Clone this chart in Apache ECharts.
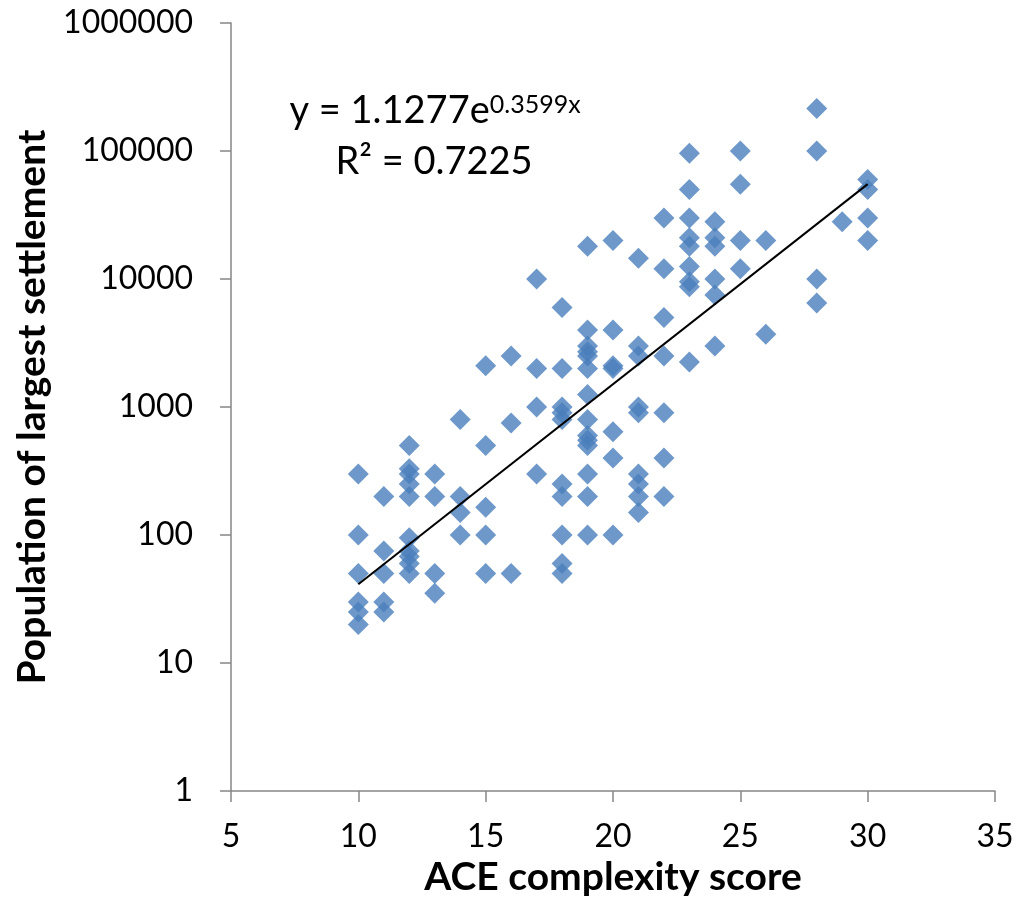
<!DOCTYPE html>
<html>
<head>
<meta charset="utf-8">
<title>ACE complexity score vs population of largest settlement</title>
<script src="https://cdn.jsdelivr.net/npm/echarts@6/dist/echarts.min.js"></script>
<style>
  html, body { margin: 0; padding: 0; background: #ffffff; }
  #chart { width: 1021px; height: 918px; }
</style>
</head>
<body>
<div id="chart"></div>
<script>
// ACE complexity score of each society and the population of its largest settlement
const scores = [10, 11, 12, 13, 14, 15, 16, 17, 18, 19, 20, 21, 22, 23, 24, 25, 26, 28, 29, 30];
const populations = [
  [300, 100, 50, 30, 25, 20],
  [200, 75, 50, 30, 25],
  [500, 330, 300, 250, 200, 95, 75, 68, 60, 50],
  [300, 200, 50, 35],
  [800, 200, 150, 100],
  [2100, 500, 165, 100, 50],
  [2500, 750, 50],
  [10000, 2000, 1000, 300],
  [6000, 2000, 1000, 900, 800, 250, 200, 100, 60, 50],
  [18000, 4000, 3000, 2700, 2500, 2000, 1250, 800, 600, 550, 500, 300, 200, 100],
  [20000, 4000, 2100, 2000, 640, 400, 100],
  [14500, 3000, 2500, 1000, 900, 300, 250, 200, 150],
  [30000, 12000, 5000, 2500, 900, 400, 200],
  [96000, 50000, 30000, 21000, 18000, 12500, 9500, 8700, 2250],
  [28000, 21000, 18000, 10000, 7500, 3000],
  [100000, 55000, 20000, 12000],
  [20000, 3700],
  [215000, 100000, 10000, 6500],
  [28000],
  [60000, 50000, 30000, 20000]
];

// Exponential fit y = a * e^(b x), drawn over the observed score range
const fitA = 1.1277;
const fitB = 0.3599;
const fitR2 = 0.7225;
const fitRange = [10, 30];

const xTicks = [5, 10, 15, 20, 25, 30, 35];
const yTicks = [1, 10, 100, 1000, 10000, 100000, 1000000];

const points = [];
scores.forEach((s, i) => populations[i].forEach(p => points.push([s, p])));
const fitLine = fitRange.map(x => [x, fitA * Math.exp(fitB * x)]);

const FONT = 'Lato, "Open Sans", sans-serif';
const axisGrey = '#868686';

const chart = echarts.init(document.getElementById('chart'));
chart.setOption({
  animation: false,
  backgroundColor: '#ffffff',
  grid: { left: 231, right: 26, top: 23, bottom: 127, containLabel: false },
  xAxis: {
    type: 'value',
    min: xTicks[0],
    max: xTicks[xTicks.length - 1],
    interval: 5,
    name: 'ACE complexity score',
    nameLocation: 'middle',
    nameGap: 54,
    nameTextStyle: { fontFamily: FONT, fontWeight: 'bold', fontSize: 39, color: '#000' },
    axisLine: { show: true, onZero: false, lineStyle: { color: axisGrey, width: 1.5 } },
    axisTick: { show: true, inside: false, length: 11, lineStyle: { color: axisGrey, width: 1.5 } },
    axisLabel: { margin: 30, fontFamily: FONT, fontSize: 32, color: '#000' },
    splitLine: { show: false }
  },
  yAxis: {
    type: 'log',
    logBase: 10,
    min: yTicks[0],
    max: yTicks[yTicks.length - 1],
    splitNumber: 6,
    name: 'Population of largest settlement',
    nameLocation: 'middle',
    nameGap: 176,
    nameTextStyle: { fontFamily: FONT, fontWeight: 'bold', fontSize: 39, color: '#000' },
    axisLine: { show: true, onZero: false, lineStyle: { color: axisGrey, width: 1.5 } },
    axisTick: { show: true, inside: false, length: 11, lineStyle: { color: axisGrey, width: 1.5 } },
    axisLabel: {
      margin: 38, fontFamily: FONT, fontSize: 32, color: '#000',
      formatter: v => String(Math.round(v))
    },
    splitLine: { show: false }
  },
  series: [
    {
      type: 'scatter',
      data: points,
      symbol: 'diamond',
      symbolSize: 21,
      itemStyle: { color: '#4a7ebb' },
      z: 2
    },
    {
      type: 'line',
      data: fitLine,
      showSymbol: false,
      symbol: 'none',
      lineStyle: { color: '#000', width: 2 },
      z: 3
    }
  ],
  graphic: [
    {
      type: 'text',
      x: 435,
      y: 111,
      style: {
        text: '{m|y = ' + fitA + 'e}{s|' + fitB + 'x}',
        align: 'center',
        verticalAlign: 'middle',
        rich: {
          m: { fontFamily: FONT, fontSize: 38, color: '#000', verticalAlign: 'bottom' },
          s: { fontFamily: FONT, fontSize: 25, color: '#000', verticalAlign: 'top' }
        }
      }
    },
    {
      type: 'text',
      x: 434,
      y: 162,
      style: {
        text: 'R² = ' + fitR2,
        align: 'center',
        verticalAlign: 'middle',
        fontFamily: FONT,
        fontSize: 38,
        fill: '#000'
      }
    }
  ]
});
</script>
</body>
</html>
